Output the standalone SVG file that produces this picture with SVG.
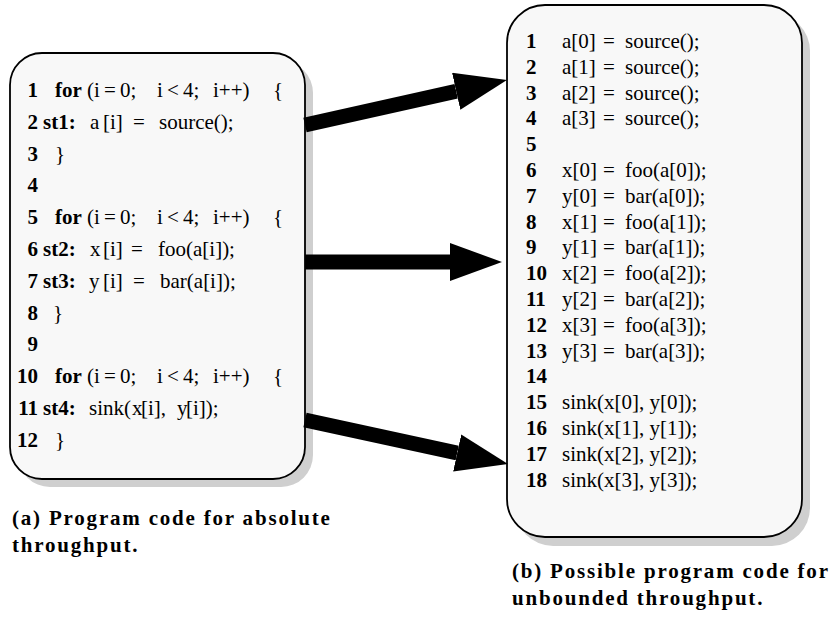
<svg xmlns="http://www.w3.org/2000/svg" width="833" height="621" viewBox="0 0 833 621">
  <style>
    .box { fill: #f8f8f8; stroke: #000; stroke-width: 1.8; }
    .shadow { fill: #cfcfcf; stroke: none; }
    text { font-family: "Liberation Serif", "Times New Roman", serif; font-size: 21px; fill: #000; }
    .b { font-weight: bold; }
    .num { font-weight: bold; }
    .cap { font-weight: bold; font-size: 21px; letter-spacing: 1.8px; }
    .conn { stroke: #000; stroke-width: 15; fill: none; }
  </style>
  <defs>
    <marker id="head" markerUnits="userSpaceOnUse" markerWidth="54" markerHeight="40" refX="0" refY="19" orient="auto">
      <path d="M0,0 L52,19 L0,38 z" fill="#000"/>
    </marker>
  </defs>

  <!-- Left: looped program -->
  <g id="loop-code">
    <rect class="shadow" x="18" y="61" width="295" height="426" rx="32"/>
    <rect class="box" x="10" y="53" width="295" height="426" rx="32"/>
    <text y="97"><tspan class="num" x="38" text-anchor="end">1</tspan><tspan class="b" x="55">for</tspan><tspan x="87">(i&#8201;=&#8201;0;</tspan><tspan x="157">i&#8201;&lt;&#8201;4;</tspan><tspan x="213">i++)</tspan><tspan x="273">{</tspan></text>
    <text y="129"><tspan class="num" x="38" text-anchor="end">2</tspan><tspan class="b" x="43">st1:</tspan><tspan x="90">a</tspan><tspan x="103">[i]</tspan><tspan x="133">=</tspan><tspan x="159">source();</tspan></text>
    <text y="161"><tspan class="num" x="38" text-anchor="end">3</tspan><tspan x="55">}</tspan></text>
    <text y="192"><tspan class="num" x="38" text-anchor="end">4</tspan></text>
    <text y="224"><tspan class="num" x="38" text-anchor="end">5</tspan><tspan class="b" x="55">for</tspan><tspan x="87">(i&#8201;=&#8201;0;</tspan><tspan x="157">i&#8201;&lt;&#8201;4;</tspan><tspan x="213">i++)</tspan><tspan x="273">{</tspan></text>
    <text y="256"><tspan class="num" x="38" text-anchor="end">6</tspan><tspan class="b" x="43">st2:</tspan><tspan x="90">x</tspan><tspan x="103">[i]</tspan><tspan x="131">=</tspan><tspan x="158">foo(a[i]);</tspan></text>
    <text y="288"><tspan class="num" x="38" text-anchor="end">7</tspan><tspan class="b" x="43">st3:</tspan><tspan x="89">y</tspan><tspan x="103">[i]</tspan><tspan x="133">=</tspan><tspan x="160">bar(a[i]);</tspan></text>
    <text y="320"><tspan class="num" x="38" text-anchor="end">8</tspan><tspan x="53">}</tspan></text>
    <text y="351"><tspan class="num" x="38" text-anchor="end">9</tspan></text>
    <text y="383"><tspan class="num" x="38" text-anchor="end">10</tspan><tspan class="b" x="55">for</tspan><tspan x="87">(i&#8201;=&#8201;0;</tspan><tspan x="157">i&#8201;&lt;&#8201;4;</tspan><tspan x="213">i++)</tspan><tspan x="273">{</tspan></text>
    <text y="415"><tspan class="num" x="38" text-anchor="end">11</tspan><tspan class="b" x="43">st4:</tspan><tspan x="89">sink(</tspan><tspan x="132">x</tspan><tspan x="141">[i],</tspan><tspan x="177">y</tspan><tspan x="186">[i]);</tspan></text>
    <text y="447"><tspan class="num" x="38" text-anchor="end">12</tspan><tspan x="55">}</tspan></text>
  </g>

  <!-- Right: fully unrolled program -->
  <g id="unrolled-code">
    <rect class="shadow" x="515" y="13" width="295" height="533" rx="38"/>
    <rect class="box" x="507" y="5" width="295" height="532" rx="38"/>
    <text y="48"><tspan class="num" x="526">1</tspan><tspan x="562">a[0]</tspan><tspan x="603">=</tspan><tspan x="625">source();</tspan></text>
    <text y="74"><tspan class="num" x="526">2</tspan><tspan x="562">a[1]</tspan><tspan x="603">=</tspan><tspan x="625">source();</tspan></text>
    <text y="100"><tspan class="num" x="526">3</tspan><tspan x="562">a[2]</tspan><tspan x="603">=</tspan><tspan x="625">source();</tspan></text>
    <text y="125"><tspan class="num" x="526">4</tspan><tspan x="562">a[3]</tspan><tspan x="603">=</tspan><tspan x="625">source();</tspan></text>
    <text y="151"><tspan class="num" x="526">5</tspan></text>
    <text y="177"><tspan class="num" x="526">6</tspan><tspan x="562">x[0]</tspan><tspan x="603">=</tspan><tspan x="625">foo(a[0]);</tspan></text>
    <text y="203"><tspan class="num" x="526">7</tspan><tspan x="562">y[0]</tspan><tspan x="603">=</tspan><tspan x="625">bar(a[0]);</tspan></text>
    <text y="229"><tspan class="num" x="526">8</tspan><tspan x="562">x[1]</tspan><tspan x="603">=</tspan><tspan x="625">foo(a[1]);</tspan></text>
    <text y="254"><tspan class="num" x="526">9</tspan><tspan x="562">y[1]</tspan><tspan x="603">=</tspan><tspan x="625">bar(a[1]);</tspan></text>
    <text y="280"><tspan class="num" x="526">10</tspan><tspan x="562">x[2]</tspan><tspan x="603">=</tspan><tspan x="625">foo(a[2]);</tspan></text>
    <text y="306"><tspan class="num" x="526">11</tspan><tspan x="562">y[2]</tspan><tspan x="603">=</tspan><tspan x="625">bar(a[2]);</tspan></text>
    <text y="332"><tspan class="num" x="526">12</tspan><tspan x="562">x[3]</tspan><tspan x="603">=</tspan><tspan x="625">foo(a[3]);</tspan></text>
    <text y="358"><tspan class="num" x="526">13</tspan><tspan x="562">y[3]</tspan><tspan x="603">=</tspan><tspan x="625">bar(a[3]);</tspan></text>
    <text y="383"><tspan class="num" x="526">14</tspan></text>
    <text y="409"><tspan class="num" x="526">15</tspan><tspan x="562">sink(x[0], y[0]);</tspan></text>
    <text y="435"><tspan class="num" x="526">16</tspan><tspan x="562">sink(x[1], y[1]);</tspan></text>
    <text y="461"><tspan class="num" x="526">17</tspan><tspan x="562">sink(x[2], y[2]);</tspan></text>
    <text y="487"><tspan class="num" x="526">18</tspan><tspan x="562">sink(x[3], y[3]);</tspan></text>
  </g>

  <!-- Thick arrows from each loop to its unrolled statements -->
  <g id="connectors">
    <line class="conn" x1="305" y1="125" x2="456.2" y2="91.3" marker-end="url(#head)"/>
    <line class="conn" x1="305" y1="262" x2="450" y2="262" marker-end="url(#head)"/>
    <line class="conn" x1="305" y1="420" x2="457.2" y2="453" marker-end="url(#head)"/>
  </g>

  <!-- Sub-captions -->
  <g id="caption-a">
    <text class="cap" x="12" y="525">(a) Program code for absolute</text>
    <text class="cap" x="12" y="552">throughput.</text>
  </g>
  <g id="caption-b">
    <text class="cap" x="512" y="578">(b) Possible program code for</text>
    <text class="cap" x="512" y="605">unbounded throughput.</text>
  </g>
</svg>
